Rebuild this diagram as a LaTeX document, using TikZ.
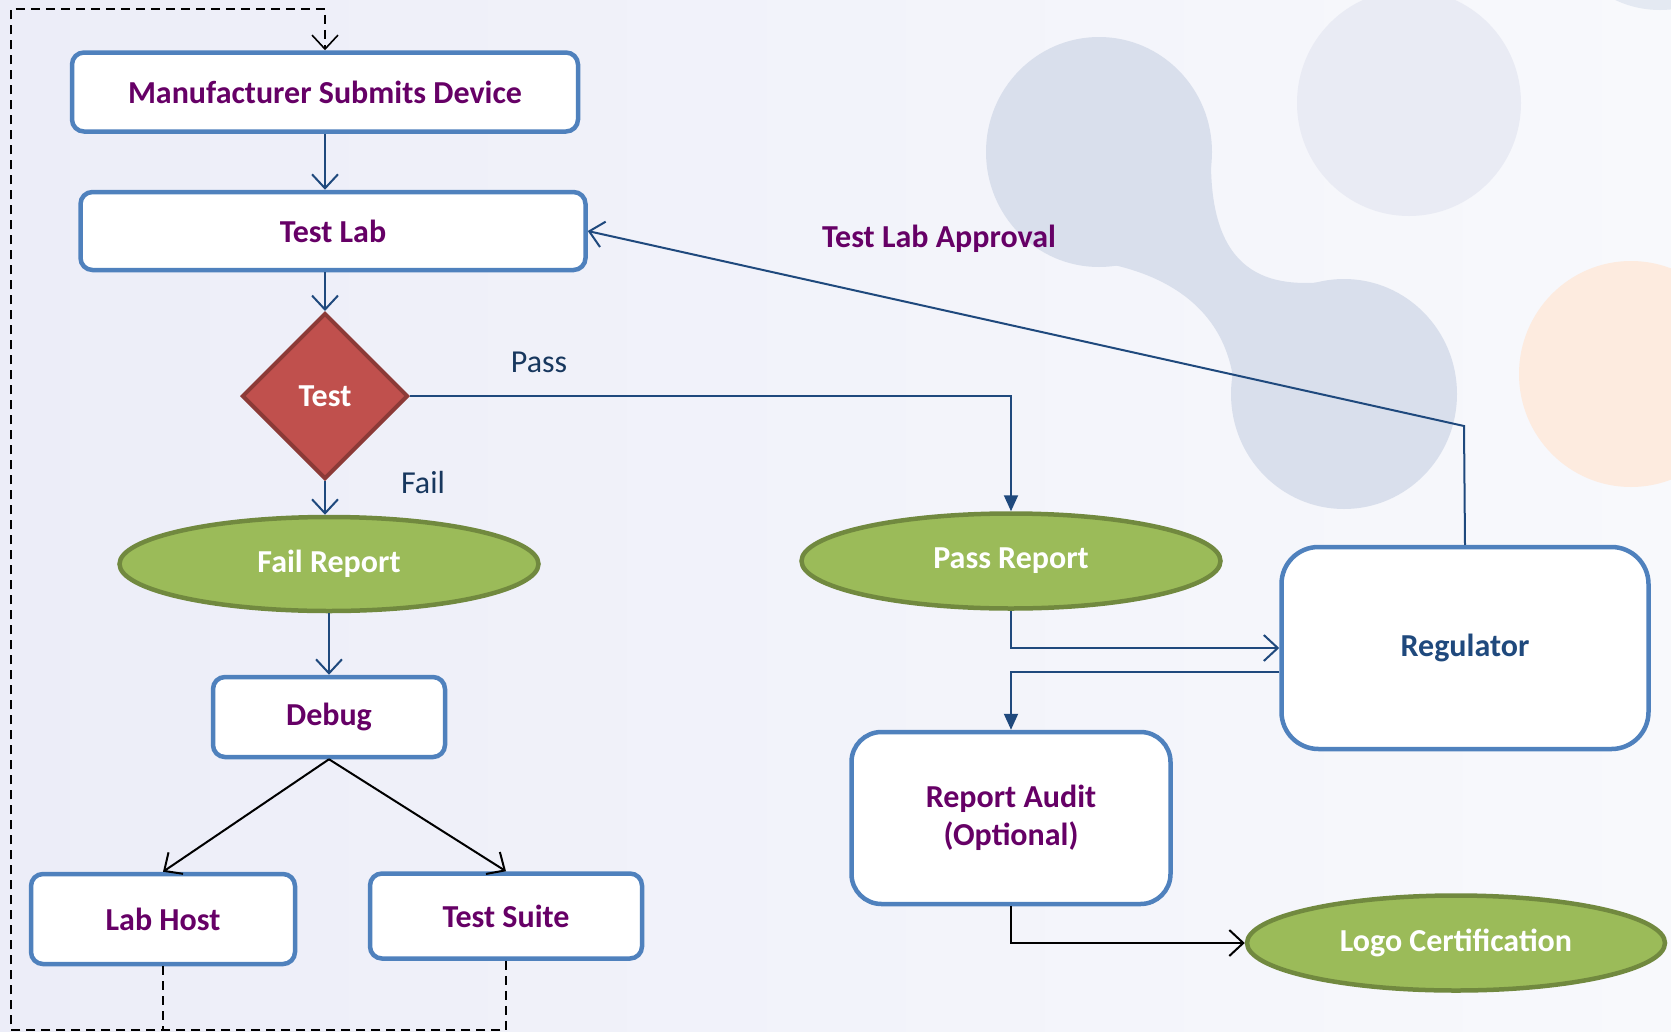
\documentclass[tikz,border=0pt]{standalone}
\usepackage{fontspec}
\setmainfont{Carlito}
\usetikzlibrary{shapes.geometric,arrows.meta}
\definecolor{boxline}{HTML}{4F81BD}
\definecolor{boxtext}{HTML}{660066}
\definecolor{wire}{HTML}{1F497D}
\definecolor{labeltext}{HTML}{17375E}
\definecolor{greenfill}{HTML}{9BBB59}
\definecolor{greenline}{HTML}{71893F}
\definecolor{redfill}{HTML}{C0504D}
\definecolor{redline}{HTML}{8C3A37}
\definecolor{blob}{HTML}{D9DFEC}
\definecolor{greyblob}{HTML}{E9EBF4}
\definecolor{peach}{HTML}{FDEBDF}
\definecolor{backleft}{HTML}{ECEDF8}
\definecolor{backright}{HTML}{F8F9FC}
\tikzset{
	stepbox/.style = {rectangle, rounded corners=12pt, draw=boxline, line width=4.5pt, fill=white, text=boxtext, inner sep=0pt, font=\fontsize{32}{38}\selectfont\bfseries, align=center},
	report/.style = {ellipse, draw=greenline, line width=4.5pt, fill=greenfill, text=white, inner sep=0pt, font=\fontsize{32}{38}\selectfont\bfseries},
	wire/.style = {draw=wire, line width=2pt, -{Straight Barb[length=14pt,width=26pt]}},
	solidwire/.style = {draw=wire, line width=2pt, -{Triangle[length=16pt,width=14pt]}},
	blackwire/.style = {draw=black, line width=2pt, -{Straight Barb[length=14pt,width=26pt]}},
	looppath/.style = {draw=black, line width=1.6pt, dash pattern=on 9pt off 6pt}
}
\begin{document}
\begin{tikzpicture}[x=1pt, y=-1pt]
	\useasboundingbox (0,0) rectangle (1671,1031);
	\shade[left color=backleft, right color=backright] (0,0) rectangle (1671,1031);
	\fill[greyblob] (1409,103) circle [x radius=112, y radius=113];
	\fill[peach] (1631,374) circle [x radius=112, y radius=113];
	\fill[blob!70] (1660,-95) circle (105);
	\fill[blob] (1099,152) circle [x radius=113, y radius=115];
	\fill[blob] (1344,394) circle [x radius=113, y radius=115];
	\fill[blob] (1060,258) .. controls (1150,262) and (1233,300) .. (1235,400) -- (1344,394) -- (1340,280) .. controls (1275,290) and (1212,280) .. (1211,165) -- (1099,152) -- cycle;

	\node[stepbox, minimum width=506, minimum height=79] (msd) at (325,92) {Manufacturer Submits Device};
	\node[stepbox, minimum width=505, minimum height=78] (lab) at (333,231) {Test Lab};
	\node[diamond, draw=redline, line width=4pt, fill=redfill, text=white, inner sep=0pt, minimum width=166, minimum height=166, font=\fontsize{32}{38}\selectfont\bfseries] (test) at (325,396) {Test};
	\node[report, minimum width=419, minimum height=94] (fail) at (329,564) {Fail Report};
	\node[report, minimum width=419, minimum height=95] (pass) at (1011,561) {Pass Report};
	\node[stepbox, minimum width=232, minimum height=80] (debug) at (329,717) {Debug};
	\node[stepbox, minimum width=264, minimum height=90] (lh) at (163,919) {Lab Host};
	\node[stepbox, minimum width=272, minimum height=85] (suite) at (506,916) {Test Suite};
	\node[stepbox, rounded corners=37pt, minimum width=367, minimum height=202, text=wire] (reg) at (1465,648) {Regulator};
	\node[stepbox, rounded corners=30pt, minimum width=319, minimum height=172] (audit) at (1011,818) {Report Audit\\(Optional)};
	\node[report, minimum width=418, minimum height=95] (logo) at (1456,943) {Logo Certification};

	\node[text=labeltext, font=\fontsize{32}{38}\selectfont] (passlbl) at (539,362) {Pass};
	\node[text=labeltext, font=\fontsize{32}{38}\selectfont] (faillbl) at (423,482) {Fail};
	\node[text=boxtext, font=\fontsize{32}{38}\selectfont\bfseries] (approval) at (939,239) {Test Lab Approval};

	\coordinate (bend) at (1464,426);
	\coordinate (loopbl) at (11,1030);
	\coordinate (looptl) at (11,9);

	\draw[wire] (msd.south) -- (msd.south |- lab.north);
	\draw[wire] (test.north |- lab.south) -- (test.north);
	\draw[wire] (test.south) -- (test.south |- fail.north);
	\draw[solidwire] (test.east) -| (pass.north);
	\draw[wire] (fail.south) -- (debug.north);
	\draw[wire] (pass.south) |- (reg.west);
	\draw[solidwire] ([yshift=-24pt]reg.west) -| (audit.north);
	\draw[wire] (reg.north) -- (bend) -- (lab.east);
	\draw[blackwire] (debug.south) -- (lh.north);
	\draw[blackwire] (debug.south) -- (suite.north);
	\draw[blackwire] (audit.south) |- (logo.west);
	\draw[looppath, -{Straight Barb[length=14pt,width=26pt]}] (suite.south) -- (suite.south |- loopbl) -- (loopbl) -- (looptl) -- (looptl -| msd.north) -- (msd.north);
	\draw[looppath] (lh.south) -- (lh.south |- loopbl);
\end{tikzpicture}
\end{document}
